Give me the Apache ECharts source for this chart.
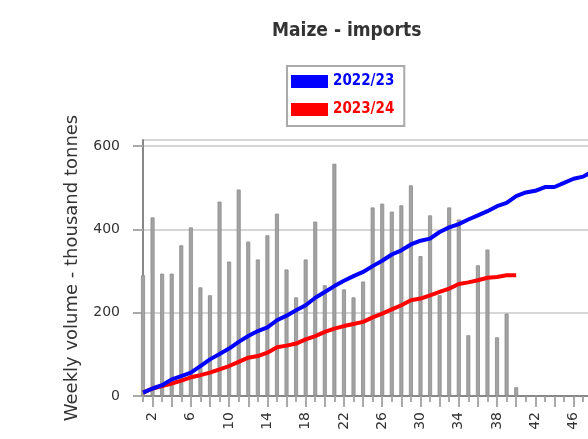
<!DOCTYPE html>
<html>
<head>
<meta charset="utf-8">
<script src="https://cdn.jsdelivr.net/npm/echarts@6/dist/echarts.min.js"></script>
<style>
    html, body { margin: 0; padding: 0; background: #fff; }
    #chart { width: 588px; height: 439px; }
</style>
</head>
<body>
<div id="chart"></div>
<script>
// semaines de campagne
var weeks = ['1','2','3','4','5','6','7','8','9','10','11','12','13','14','15','16','17','18','19','20',
    '21','22','23','24','25','26','27','28','29','30','31','32','33','34','35','36','37','38','39','40',
    '41','42','43','44','45','46','47','48','49','50','51','52'];
// volumes hebdomadaires 2023/24 (barres)
var weeklyVolume = [290, 429, 294, 294, 362, 405, 261, 242, 467, 323, 496, 371, 328, 386, 438, 304,
    237, 328, 419, 266, 558, 256, 237, 275, 453, 462, 443, 458, 506, 336, 434, 242, 453, 424, 146, 314,
    352, 141, 198, 21, 0, 0, 0, 0, 0, 0, 0, 0, 0, 0, 0, 0];
// cumuls
var cumul2223 = [8, 18, 26, 40, 48, 56, 72, 88, 101, 114, 130, 144, 156, 165, 182, 193, 206, 218, 236,
    250, 264, 277, 288, 298, 312, 325, 340, 350, 364, 373, 378, 394, 405, 413, 424, 434, 444, 456, 464,
    480, 489, 493, 502, 502, 512, 522, 527, 540];
var cumul2324 = [8, 18, 24, 30, 37, 45, 50, 56, 64, 72, 82, 92, 96, 104, 117, 121, 126, 136, 144, 154,
    162, 168, 173, 178, 189, 198, 208, 218, 230, 234, 242, 250, 258, 269, 273, 278, 284, 286, 290, 290];
var yTicks = [0, 200, 400, 600];

var font = 'DejaVu Sans';
var dom = document.getElementById('chart');
var myChart = echarts.init(dom);
var option = {
    animation: false,
    title: {
        text: 'Maize - imports',
        left: 272,
        top: 22,
        padding: 0,
        textStyle: {
            fontFamily: "'DejaVu Sans Condensed', 'DejaVu Sans'",
            fontWeight: 'bold',
            fontSize: 19,
            color: '#333'
        }
    },
    legend: {
        orient: 'vertical',
        left: 287,
        top: 66,
        padding: [8, 10, 9, 4],
        itemWidth: 37,
        itemHeight: 13,
        itemGap: 13,
        borderColor: '#aaa',
        borderWidth: 2,
        icon: 'rect',
        textStyle: {
            fontFamily: "'DejaVu Sans Condensed', 'DejaVu Sans'",
            fontWeight: 'bold',
            fontSize: 15
        },
        data: [
            { name: '2022/23', textStyle: { color: '#0000ff' } },
            { name: '2023/24', textStyle: { color: '#ff0000' } }
        ]
    },
    // le graphique d'origine est coupé à droite
    grid: [
        { left: 143, right: -43, top: 140, bottom: 43, outerBoundsMode: 'none' },
        { left: 143, right: -43, top: 146, bottom: 43, outerBoundsMode: 'none' }
    ],
    xAxis: [{
        type: 'category',
        gridIndex: 0,
        data: weeks,
        boundaryGap: false,
        axisLine: { lineStyle: { color: '#888', width: 2 } },
        // grands traits aux semaines paires
        axisTick: {
            interval: function (i) { return i % 2 === 1; },
            length: 11,
            lineStyle: { color: '#aaa', width: 2 }
        },
        axisLabel: {
            interval: function (i) { return i % 4 === 1; },
            rotate: 90,
            margin: 16,
            fontFamily: font,
            fontSize: 14,
            color: '#333'
        },
        splitLine: { show: false }
    }, {
        type: 'category',
        gridIndex: 1,
        data: weeks,
        boundaryGap: false,
        axisLine: { show: false },
        // petits traits aux semaines impaires
        axisTick: {
            interval: function (i) { return i % 2 === 0; },
            length: 6,
            lineStyle: { color: '#aaa', width: 2 }
        },
        axisLabel: { show: false },
        splitLine: { show: false }
    }],
    yAxis: [{
        type: 'value',
        gridIndex: 0,
        min: 0,
        max: 615,
        interval: 200,
        name: 'Weekly volume - thousand tonnes',
        nameLocation: 'middle',
        nameGap: 62,
        nameTextStyle: { fontFamily: font, fontSize: 18, color: '#333' },
        axisLine: { show: true, lineStyle: { color: '#888', width: 2 } },
        axisTick: { show: false },
        axisLabel: { show: false },
        splitLine: { show: true, lineStyle: { color: '#d6d6d6', width: 2 } }
    }, {
        type: 'value',
        gridIndex: 1,
        min: 0,
        max: 600,
        interval: 200,
        axisLine: { show: false },
        axisTick: { show: true, length: 10, lineStyle: { color: '#aaa', width: 2 } },
        axisLabel: {
            margin: 23,
            fontFamily: font,
            fontSize: 14,
            color: '#333',
            formatter: function (v) { return yTicks.indexOf(v) >= 0 ? String(v) : ''; }
        },
        splitLine: { show: false }
    }],
    series: [{
        name: 'weekly',
        type: 'bar',
        xAxisIndex: 0,
        yAxisIndex: 0,
        barWidth: 4,
        itemStyle: { color: '#a3a3a3', borderColor: '#8c8c8c', borderWidth: 0.8 },
        data: weeklyVolume,
        z: 2
    }, {
        name: '2022/23',
        type: 'line',
        xAxisIndex: 0,
        yAxisIndex: 0,
        showSymbol: false,
        symbol: 'none',
        color: '#0000ff',
        lineStyle: { color: '#0000ff', width: 4 },
        data: cumul2223,
        z: 4
    }, {
        name: '2023/24',
        type: 'line',
        xAxisIndex: 0,
        yAxisIndex: 0,
        showSymbol: false,
        symbol: 'none',
        color: '#ff0000',
        lineStyle: { color: '#ff0000', width: 4 },
        data: cumul2324,
        z: 3
    }]
};
myChart.setOption(option);
</script>
</body>
</html>
